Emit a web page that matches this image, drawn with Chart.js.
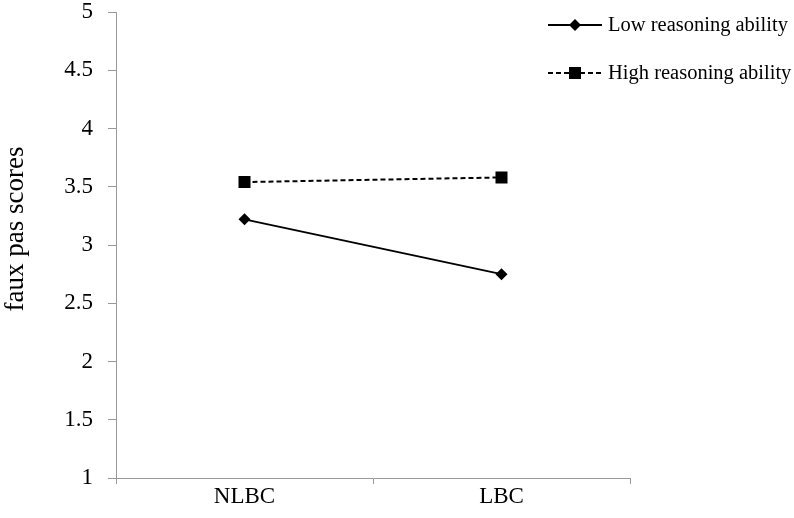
<!DOCTYPE html>
<html><head><meta charset="utf-8">
<script src="https://cdn.jsdelivr.net/npm/chart.js@4/dist/chart.umd.min.js"></script>
<style>html,body{margin:0;padding:0;background:#fff}#wrap{width:794px;height:518px}</style>
</head><body><div id="wrap"><canvas id="c" width="794" height="518"></canvas></div>
<script>
const categories = ["NLBC", "LBC"];
const lowReasoning = [3.22, 2.75];
const highReasoning = [3.54, 3.58];
const yTicks = [1, 1.5, 2, 2.5, 3, 3.5, 4, 4.5, 5];
const seriesLabels = ["Low reasoning ability", "High reasoning ability"];
const yTitle = "faux pas scores";

const FONT = "'Liberation Serif', 'Times New Roman', serif";

const legendPlugin = {
  id: 'customLegend',
  afterDraw(chart) {
    const ctx = chart.ctx;
    const rows = [25, 73];
    chart.data.datasets.forEach((ds, i) => {
      const y = rows[i];
      ctx.save();
      ctx.strokeStyle = '#000';
      ctx.lineWidth = 2;
      ctx.setLineDash(ds.borderDash || []);
      ctx.beginPath();
      ctx.moveTo(548, y);
      ctx.lineTo(602, y);
      ctx.stroke();
      ctx.setLineDash([]);
      ctx.fillStyle = '#000';
      Chart.helpers.drawPoint(ctx, {pointStyle: ds.pointStyle, radius: ds.pointRadius, borderWidth: 0}, 575, y);
      ctx.font = "20.5px " + FONT;
      ctx.textBaseline = 'middle';
      ctx.textAlign = 'left';
      ctx.fillText(ds.label, 608, y + 1);
      ctx.restore();
    });
    // y-axis title
    ctx.save();
    ctx.translate(16, 229);
    ctx.rotate(-Math.PI / 2);
    ctx.font = "27px " + FONT;
    ctx.fillStyle = '#000';
    ctx.textAlign = 'center';
    ctx.textBaseline = 'middle';
    ctx.fillText(yTitle, 0, 0);
    ctx.restore();
  }
};

new Chart(document.getElementById('c'), {
  type: 'line',
  data: {
    labels: categories,
    datasets: [
      {label: seriesLabels[0], data: lowReasoning, borderColor: '#000', backgroundColor: '#000', borderWidth: 2,
       pointStyle: 'rectRot', pointRadius: 6, pointBackgroundColor: '#000', pointBorderWidth: 0},
      {label: seriesLabels[1], data: highReasoning, borderColor: '#000', backgroundColor: '#000', borderWidth: 2, borderDash: [5, 3],
       pointStyle: 'rect', pointRadius: 8.5, pointBackgroundColor: '#000', pointBorderWidth: 0}
    ]
  },
  options: {
    responsive: false,
    animation: false,
    layout: {autoPadding: false, padding: {left: 0, right: 164, top: 12, bottom: 0}},
    plugins: {legend: {display: false}, tooltip: {enabled: false}},
    scales: {
      x: {
        offset: true,
        grid: {offset: true, drawOnChartArea: false, drawTicks: true, tickLength: 6, color: '#999'},
        border: {color: '#999', width: 1},
        ticks: {color: '#000', font: {family: FONT, size: 23, lineHeight: 1}, padding: 1},
        afterFit(scale) { scale.height = 40; scale.paddingLeft = 0; scale.paddingRight = 0; }
      },
      y: {
        min: 1, max: 5,
        afterBuildTicks(scale) { scale.ticks = yTicks.map(v => ({value: v})); },
        grid: {drawOnChartArea: false, drawTicks: true, tickLength: 8, color: '#999'},
        border: {color: '#999', width: 1},
        ticks: {color: '#000', font: {family: FONT, size: 23, lineHeight: 1}, padding: 15,
                callback: (v) => String(v)},
        afterFit(scale) { scale.width = 116; scale.paddingTop = 0; scale.paddingBottom = 0; }
      }
    }
  },
  plugins: [legendPlugin]
});
</script>
</body></html>
